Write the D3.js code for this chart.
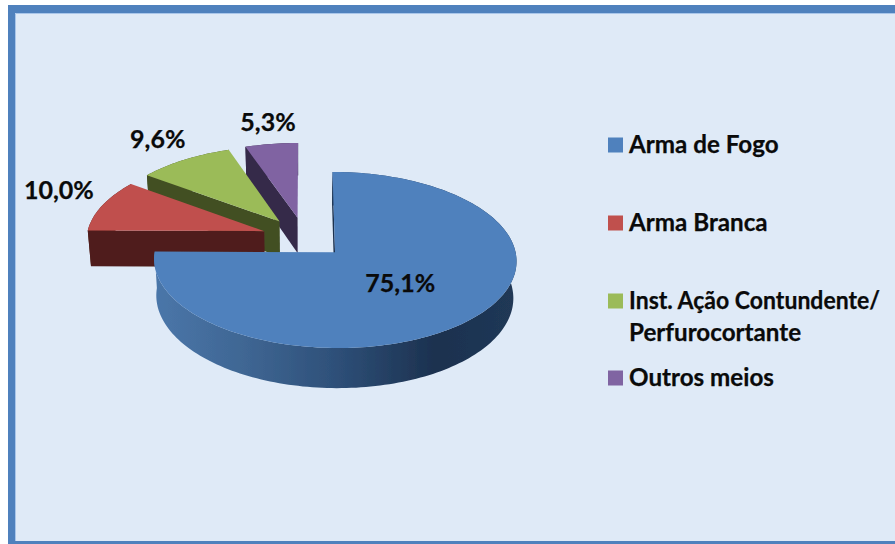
<!DOCTYPE html>
<html><head><meta charset="utf-8">
<style>html,body{margin:0;padding:0;background:#fff;overflow:hidden}svg{display:block}text{font-family:Lato,"Open Sans",sans-serif;font-weight:700;fill:#0a0a0a;stroke:#0a0a0a;stroke-width:.25}</style>
<script src="https://cdn.jsdelivr.net/npm/d3@7/dist/d3.min.js"></script></head><body>
<script>
const categories=["Arma de Fogo","Arma Branca","Inst. Ação Contundente/","Outros meios"];
const legendExtra=[null,null,"Perfurocortante",null];
const values=[75.1,10.0,9.6,5.3];
const labels=["75,1%","10,0%","9,6%","5,3%"];
const colors=["#4f81bd","#c0504d","#9bbb59","#8064a2"];
const wallColors=["#2c4d75","#4f1f1c","#434f24","#35294a"];

const W=895,H=544;
const svg=d3.select("body").append("svg").attr("width",W).attr("height",H);
const defs=svg.append("defs");
const grad=defs.append("linearGradient").attr("id","wall").attr("gradientUnits","userSpaceOnUse").attr("x1",156).attr("x2",514).attr("y1",0).attr("y2",0);
[[0,"#4a76a9"],[.25,"#3f6693"],[.5,"#2e5079"],[.78,"#1c314f"],[1,"#203856"]].forEach(s=>grad.append("stop").attr("offset",s[0]).attr("stop-color",s[1]));
defs.append("filter").attr("id","soft").append("feGaussianBlur").attr("stdDeviation",.45);

// frame
svg.append("rect").attr("x",8).attr("y",5).attr("width",W).attr("height",H).attr("fill","#4f81bd");
svg.append("rect").attr("x",15).attr("y",13).attr("width",W).attr("height",H-13-3).attr("fill","#dfeaf7");
svg.append("path").attr("d",`M15.5,${H-3}V13.5H${W}`).attr("fill","none").attr("stroke","#a9c6ea").attr("stroke-width",1);

// 3D pie: d3.pie gives the angles, a perspective projection places them
const cx=304.5,cy=237.5,rx=177.8,ry=84.7,k=.088,explode=.24,depth=36,shrink=.985;
const pie=d3.pie().sort(null).value(d=>d);
const arcs=pie(values);
function project(U,V,z){
  const w=1+k*V;
  const sx=z?shrink:1;
  return [cx+sx*rx*U/w, cy-ry*V/w+(z?depth/w:0)];
}
function pt(a,r,ang,z){
  const mid=(a.startAngle+a.endAngle)/2;
  return project(explode*Math.sin(mid)+r*Math.sin(ang),explode*Math.cos(mid)+r*Math.cos(ang),z);
}
const line=d3.line();
const chart=svg.append("g").attr("filter","url(#soft)");
function rim(a,z){
  const pts=[];
  const n=Math.max(8,Math.ceil((a.endAngle-a.startAngle)*40));
  for(let i=0;i<=n;i++){pts.push(pt(a,1,a.startAngle+(a.endAngle-a.startAngle)*i/n,z));}
  return pts;
}
[3,2,1,0].forEach(i=>{
  const a=arcs[i];
  const outer=rim(a,false),lower=rim(a,true).reverse();
  chart.append("path").attr("d",line(outer.concat(lower))+"Z").attr("fill",i===0?"url(#wall)":wallColors[i]);
  const wallPts=[pt(a,0,0,false),pt(a,1,a.startAngle,false),pt(a,1,a.startAngle,true),pt(a,0,0,true)];
  chart.append("path").attr("d",line(wallPts)+"Z").attr("fill",i===0?"#1c314f":wallColors[i]);
  chart.append("path").attr("d",line([pt(a,0,0,false)].concat(outer))+"Z").attr("fill",colors[i]);
});

// data labels, placed from the slice angle
const labelR=[.42,1.27,1.2,1.17];
const labelNudge=[[9.5,3],[-1,-10],[-9,-10],[0.5,-12]];
const labelsG=svg.append("g");
arcs.forEach((a,i)=>{
  const mid=(a.startAngle+a.endAngle)/2;
  const p=pt(a,labelR[i],mid,false);
  labelsG.append("text").attr("x",p[0]+labelNudge[i][0]).attr("y",p[1]+labelNudge[i][1]).attr("text-anchor","middle").attr("dominant-baseline","central").attr("font-size",25).text(labels[i]);
});

// legend
const legendY=d3.scaleOrdinal().domain(categories).range([152,230,308,385]);
const lg=svg.append("g");
categories.forEach((c,i)=>{
  const y=legendY(c);
  lg.append("rect").attr("x",608).attr("y",y-14.5).attr("width",15).attr("height",15).attr("fill",colors[i]);
  const t=lg.append("text").attr("x",629).attr("y",y+.8).attr("font-size",24.2).text(c);
  if(c.length>20) t.attr("textLength",251).attr("lengthAdjust","spacingAndGlyphs");
  if(legendExtra[i]) lg.append("text").attr("x",629).attr("y",y+32.8).attr("font-size",24.2).text(legendExtra[i]);
});
</script></body></html>
